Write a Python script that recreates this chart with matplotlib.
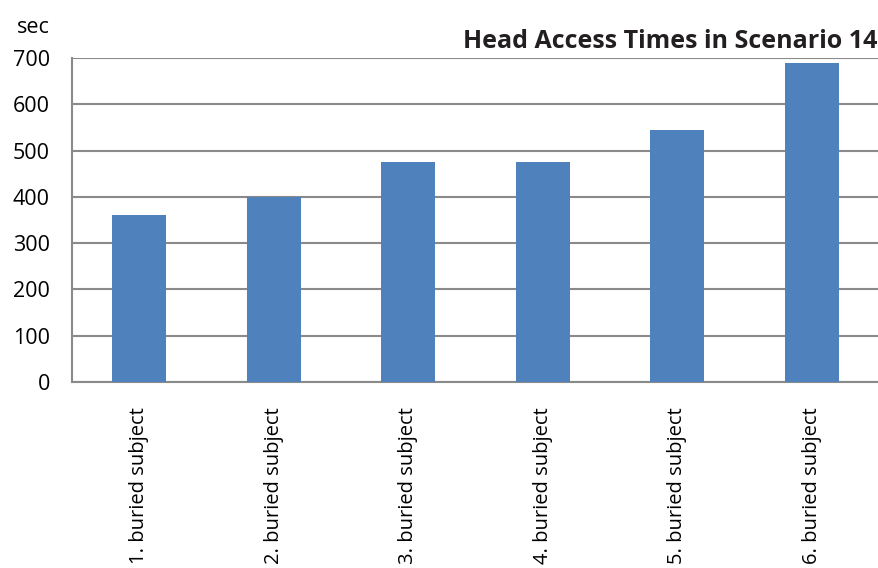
import matplotlib.pyplot as plt

# ------------------------------
# Data
# ------------------------------

subjects = ["1. buried subject", "2. buried subject", "3. buried subject",
            "4. buried subject", "5. buried subject", "6. buried subject"]
access_times = [360, 400, 475, 475, 545, 690]
y_ticks = [0, 100, 200, 300, 400, 500, 600, 700]

plt.rcParams["font.family"] = ["Open Sans", "DejaVu Sans"]

# ------------------------------
# Plot
# ------------------------------

fig = plt.figure(figsize=(8.79, 5.68), dpi=100)
ax = fig.add_axes([72 / 879, 1 - 382 / 568, 1 - 72 / 879, (382 - 58) / 568])

x = range(len(subjects))
ax.bar(x, access_times, width=0.4, color="#4F81BD", zorder=3)

ax.set_xlim(-0.5, len(subjects) - 0.5)
ax.set_ylim(0, 700)
ax.set_yticks(y_ticks)
ax.set_yticklabels([str(v) for v in y_ticks], fontsize=15.5)
ax.set_xticks(list(x))
ax.set_xticklabels(subjects, rotation=90, fontsize=14.5, va="top")

ax.grid(axis="y", color="#8A8A8A", linewidth=1.5, zorder=0)
ax.tick_params(length=0)
ax.tick_params(axis="y", pad=16)
ax.tick_params(axis="x", pad=18)

for side in ["top", "right"]:
    ax.spines[side].set_visible(False)
for side in ["left", "bottom"]:
    ax.spines[side].set_color("#8A8A8A")
    ax.spines[side].set_linewidth(1.5)

fig.text(33 / 879, 1 - 33 / 568, "sec", fontsize=15.5, ha="center", va="baseline")
fig.text(877 / 879, 1 - 48 / 568, "Head Access Times in Scenario 14",
         fontsize=18, fontweight="bold", ha="right", va="baseline", color="#231F20")

fig.savefig("out.png", dpi=100)
